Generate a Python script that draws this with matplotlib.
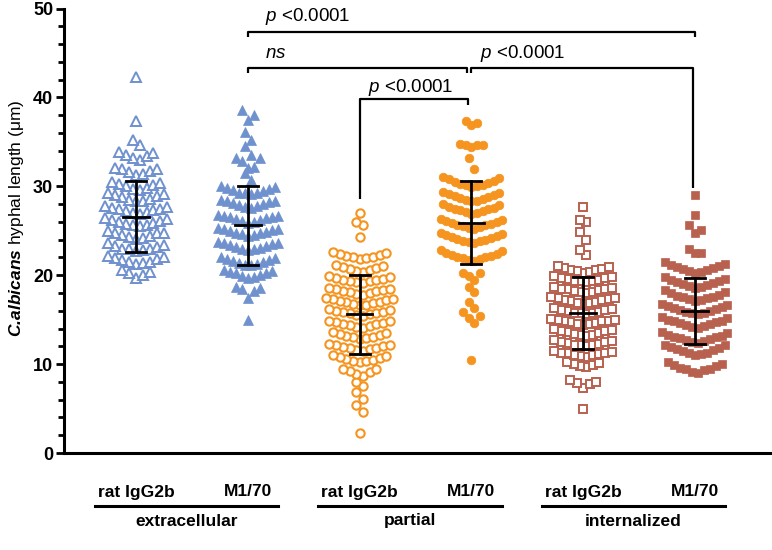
"""
C. albicans hyphal length per phagocytosis stage, rat IgG2b vs M1/70 (scatter dot plot, mean ± SD).
"""
import numpy as np
import matplotlib
matplotlib.use("Agg")
import matplotlib.pyplot as plt
from matplotlib import transforms

plt.rcParams["font.family"] = ["Liberation Sans", "DejaVu Sans"]
plt.rcParams["mathtext.fontset"] = "custom"
plt.rcParams["mathtext.rm"] = "Liberation Sans"
plt.rcParams["mathtext.it"] = "Liberation Sans:italic"
plt.rcParams["mathtext.bfit"] = "Liberation Sans:italic:bold"

# ---- data (µm) ----
ext_igg = [19.7, 20.0, 20.2, 20.4, 20.6,
           21.3, 21.4, 21.5, 21.5, 21.7, 21.8, 21.9, 22.0, 22.2,
           22.7, 22.8, 22.9, 23.0, 23.0, 23.2, 23.3, 23.4, 23.6,
           24.1, 24.2, 24.3, 24.4, 24.5, 24.7, 24.7, 24.8, 25.0,
           25.5, 25.6, 25.7, 25.8, 25.9, 26.0, 26.1, 26.2, 26.3, 26.4,
           26.9, 27.0, 27.1, 27.2, 27.3, 27.4, 27.5, 27.6, 27.7, 27.8,
           28.3, 28.4, 28.5, 28.6, 28.8, 28.9, 29.0, 29.1, 29.2,
           29.6, 29.7, 29.8, 30.0, 30.1, 30.3, 30.4, 30.5,
           31.3, 31.4, 31.6, 31.7, 31.9, 32.0, 32.1,
           33.0, 33.2, 33.4, 33.5, 33.7, 33.9,
           34.6, 35.2, 37.3, 42.3]
ext_m170 = [15.0, 17.4, 18.2, 18.4, 18.6, 18.7,
            19.7, 19.8, 19.9, 20.0, 20.2, 20.3, 20.4, 20.5, 20.6,
            21.1, 21.2, 21.3, 21.4, 21.5, 21.6, 21.7, 21.8, 21.9, 22.0,
            22.8, 22.9, 23.0, 23.1, 23.2, 23.3, 23.4, 23.5, 23.6, 23.6, 23.7,
            24.4, 24.5, 24.6, 24.7, 24.8, 24.9, 25.0, 25.1, 25.2, 25.2, 25.3,
            25.9, 26.0, 26.1, 26.2, 26.3, 26.4, 26.5, 26.6, 26.7, 26.7, 26.8,
            27.6, 27.7, 27.8, 27.9, 28.0, 28.1, 28.2, 28.3, 28.4, 28.5,
            29.1, 29.2, 29.3, 29.3, 29.5, 29.6, 29.7, 29.8, 29.9, 30.0,
            30.7, 31.5, 32.1, 32.2, 32.8, 33.2, 33.2, 33.5, 34.5, 35.2,
            36.1, 37.5, 38.0, 38.6]
par_igg = [2.2, 4.6, 5.4, 6.1, 6.9, 7.5, 8.0,
           8.7, 8.9, 9.1, 9.2, 9.4, 9.5,
           10.2, 10.3, 10.4, 10.5, 10.6, 10.7, 10.8, 10.9, 11.0,
           11.5, 11.6, 11.7, 11.8, 11.8, 11.9, 12.0, 12.1, 12.2, 12.3,
           12.8, 12.9, 13.0, 13.1, 13.2, 13.3, 13.4, 13.5, 13.6,
           14.1, 14.2, 14.3, 14.4, 14.5, 14.5, 14.6, 14.7, 14.8, 14.9,
           15.4, 15.5, 15.6, 15.7, 15.8, 15.9, 15.9, 16.0, 16.1, 16.2,
           16.6, 16.7, 16.8, 16.9, 17.0, 17.0, 17.1, 17.2, 17.3, 17.3, 17.4,
           17.8, 17.9, 18.0, 18.1, 18.2, 18.2, 18.3, 18.4, 18.5, 18.6,
           19.1, 19.2, 19.3, 19.4, 19.5, 19.5, 19.6, 19.7, 19.8, 19.9,
           20.4, 20.5, 20.6, 20.7, 20.8, 20.9, 21.0, 21.2,
           21.8, 21.9, 22.0, 22.1, 22.2, 22.3, 22.4, 22.5, 22.6,
           24.3, 25.6, 26.0, 27.0]
par_m170 = [10.5, 14.6, 15.2, 15.4, 15.9, 16.3, 17.0, 18.1, 18.7,
            19.5, 19.9, 20.2, 20.2,
            21.6, 21.7, 21.8, 21.9, 22.0, 22.1, 22.2, 22.3, 22.4, 22.5, 22.7, 22.8,
            23.6, 23.7, 23.8, 23.9, 24.0, 24.1, 24.2, 24.3, 24.4, 24.5, 24.6, 24.7,
            25.2, 25.3, 25.4, 25.5, 25.6, 25.7, 25.8, 25.9, 26.0, 26.1, 26.2, 26.3,
            26.9, 27.0, 27.1, 27.2, 27.3, 27.4, 27.5, 27.6, 27.7, 27.9, 28.0,
            28.3, 28.4, 28.5, 28.6, 28.7, 28.8, 28.9, 29.0, 29.1, 29.3, 29.4,
            29.9, 30.0, 30.1, 30.2, 30.3, 30.4, 30.5, 30.6, 30.8, 30.9, 31.1,
            32.0, 33.2, 34.4, 34.6, 34.6, 34.6, 34.8, 36.9, 37.1, 37.3]
int_igg = [5.0, 7.3, 7.8, 7.9, 8.0, 8.2,
           9.7, 9.8, 9.9, 10.0, 10.1, 10.2,
           10.8, 10.9, 11.0, 11.0, 11.1, 11.2, 11.3, 11.3, 11.4, 11.5,
           12.0, 12.1, 12.1, 12.2, 12.3, 12.4, 12.5, 12.5, 12.6, 12.7,
           13.2, 13.3, 13.3, 13.4, 13.5, 13.6, 13.7, 13.7, 13.8, 13.9,
           14.4, 14.5, 14.5, 14.6, 14.7, 14.8, 14.8, 14.9, 15.0, 15.0, 15.1,
           15.6, 15.7, 15.7, 15.8, 15.9, 16.0, 16.1, 16.1, 16.2, 16.3,
           16.8, 16.9, 16.9, 17.0, 17.1, 17.2, 17.2, 17.3, 17.4, 17.4, 17.5,
           18.0, 18.1, 18.1, 18.2, 18.3, 18.4, 18.5, 18.5, 18.6, 18.7,
           19.2, 19.3, 19.3, 19.4, 19.5, 19.6, 19.7, 19.7, 19.8, 19.9,
           20.3, 20.4, 20.5, 20.6, 20.6, 20.7, 20.8, 20.9, 21.0,
           22.3, 22.8, 24.0, 24.9, 26.0, 26.2, 27.7]
int_m170 = [9.0, 9.1, 9.3, 9.4, 9.5, 9.6, 9.8, 9.9, 10.0, 10.2,
            11.0, 11.1, 11.2, 11.3, 11.5, 11.6, 11.7, 11.8, 11.9, 12.1, 12.2,
            12.4, 12.5, 12.6, 12.7, 12.8, 12.9, 13.0, 13.1, 13.2, 13.3, 13.5, 13.6,
            14.1, 14.2, 14.3, 14.4, 14.5, 14.6, 14.7, 14.8, 14.9, 15.0, 15.2, 15.3,
            15.6, 15.7, 15.8, 15.9, 16.0, 16.1, 16.2, 16.3, 16.4, 16.5, 16.7, 16.8,
            17.1, 17.2, 17.3, 17.4, 17.5, 17.6, 17.7, 17.8, 18.0, 18.1, 18.3,
            18.6, 18.7, 18.8, 18.9, 19.0, 19.1, 19.2, 19.3, 19.5, 19.6, 19.8,
            20.3, 20.4, 20.5, 20.6, 20.7, 20.8, 20.9, 21.0, 21.2, 21.3, 21.5,
            22.5, 22.5, 23.0, 24.7, 25.1, 25.6, 26.8, 29.0]

groups = [ext_igg, ext_m170, par_igg, par_m170, int_igg, int_m170]
means = [26.6, 25.6, 15.6, 25.9, 15.75, 15.95]
sds = [4.0, 4.45, 4.45, 4.65, 4.0, 3.7]
tick_labels = ["rat IgG2b", "M1/70", "rat IgG2b", "M1/70", "rat IgG2b", "M1/70"]
stages = ["extracellular", "partial", "internalized"]

BLUE, ORANGE, BROWN = "#6F91CE", "#F5941E", "#B9614F"
styles = [
    dict(marker="^", ms=7.0, mfc="white", mec=BLUE, mew=1.4),
    dict(marker="^", ms=7.2, mfc=BLUE, mec=BLUE, mew=0.5),
    dict(marker="o", ms=6.0, mfc="white", mec=ORANGE, mew=1.5),
    dict(marker="o", ms=6.2, mfc=ORANGE, mec=ORANGE, mew=0.5),
    dict(marker="s", ms=5.3, mfc="white", mec=BROWN, mew=1.4),
    dict(marker="s", ms=5.6, mfc=BROWN, mec=BROWN, mew=0.5),
]
row_heights = [1.28, 1.38, 0.97, 1.35, 0.95, 1.25]
spacings = [0.062, 0.054, 0.060, 0.050, 0.057, 0.053]


def swarm(vals, row_h, dx):
    """GraphPad-like layout: bin sorted values into rows, spread each row from the centre out."""
    v = np.sort(np.asarray(vals, dtype=float))
    xs = np.zeros(len(v))
    start = 0
    while start < len(v):
        end = start
        while end < len(v) and v[end] - v[start] < row_h:
            end += 1
        n = end - start
        slots = sorted(np.arange(n) - (n - 1) / 2, key=lambda s: (abs(s), -s))
        xs[start:end] = np.array(slots) * dx
        start = end
    return xs, v


fig = plt.figure(figsize=(7.72, 5.5), dpi=100)
ax = fig.add_axes([63.5 / 772, 1 - 453 / 550, 1 - 63.5 / 772, 444.5 / 550])

for i, vals in enumerate(groups):
    xs, ys = swarm(vals, row_heights[i], spacings[i])
    ax.plot(i + xs, ys, ls="none", zorder=2, **styles[i])
    m, s = means[i], sds[i]
    ax.plot([i, i], [m - s, m + s], color="black", lw=2, zorder=3)
    ax.plot([i - 0.09, i + 0.09], [m + s] * 2, color="black", lw=2, zorder=3)
    ax.plot([i - 0.09, i + 0.09], [m - s] * 2, color="black", lw=2, zorder=3)
    ax.plot([i - 0.115, i + 0.115], [m, m], color="black", lw=2, zorder=3)

ax.set_xlim(-0.65, 5.69)
ax.set_ylim(0, 50)
ax.set_yticks(np.arange(0, 51, 10))
ax.set_yticks(np.arange(0, 51, 2), minor=True)
ax.set_xticks([])
for side in ("top", "right"):
    ax.spines[side].set_visible(False)
for side in ("left", "bottom"):
    ax.spines[side].set_linewidth(2.2)
ax.tick_params(axis="y", which="major", length=6, width=2, pad=1.5,
               labelsize=13)
ax.tick_params(axis="y", which="minor", length=4.5, width=2)
for lab in ax.get_yticklabels():
    lab.set_fontweight("bold")

fig.text(17 / 772, 1 - 218 / 550, r"$\mathbfit{C.\!albicans}$ hyphal length (μm)",
         rotation=90, ha="center", va="center", fontsize=12.5)

# group labels under the axis
bt = transforms.blended_transform_factory(ax.transData, fig.transFigure)
for i, lab in enumerate(tick_labels):
    ax.text(i, 1 - 492 / 550, lab, transform=bt, ha="center", va="center",
            fontsize=12.5, fontweight="bold")
for k, stage in enumerate(stages):
    x0, x1 = 2 * k - 0.37, 2 * k + 1.27
    ax.plot([x0, x1], [1 - 506 / 550] * 2, transform=bt, color="black",
            lw=2.2, clip_on=False)
    ax.text((x0 + x1) / 2, 1 - 521 / 550, stage, transform=bt, ha="center",
            va="center", fontsize=12.5, fontweight="bold")

# significance brackets
br = dict(color="black", lw=1.6, clip_on=False, solid_capstyle="butt")
ax.plot([1, 1, 5, 5], [46.85, 47.4, 47.4, 46.85], **br)
ax.plot([1, 1, 2.965, 2.965], [42.8, 43.3, 43.3, 42.8], **br)
ax.plot([2.995, 2.995, 4.98, 4.98], [42.8, 43.3, 43.3, 29.8], **br)
ax.plot([2, 2, 2.97, 2.97], [28.6, 39.8, 39.8, 39.15], **br)

ptxt = dict(fontsize=13.5, ha="left", va="baseline", clip_on=False)
ax.text(1.154, 48.6, r"$p$ <0.0001", **ptxt)
ax.text(1.154, 44.4, r"$ns$", **ptxt)
ax.text(3.077, 44.4, r"$p$ <0.0001", **ptxt)
ax.text(2.078, 40.6, r"$p$ <0.0001", **ptxt)

fig.savefig("out.png", dpi=100)
